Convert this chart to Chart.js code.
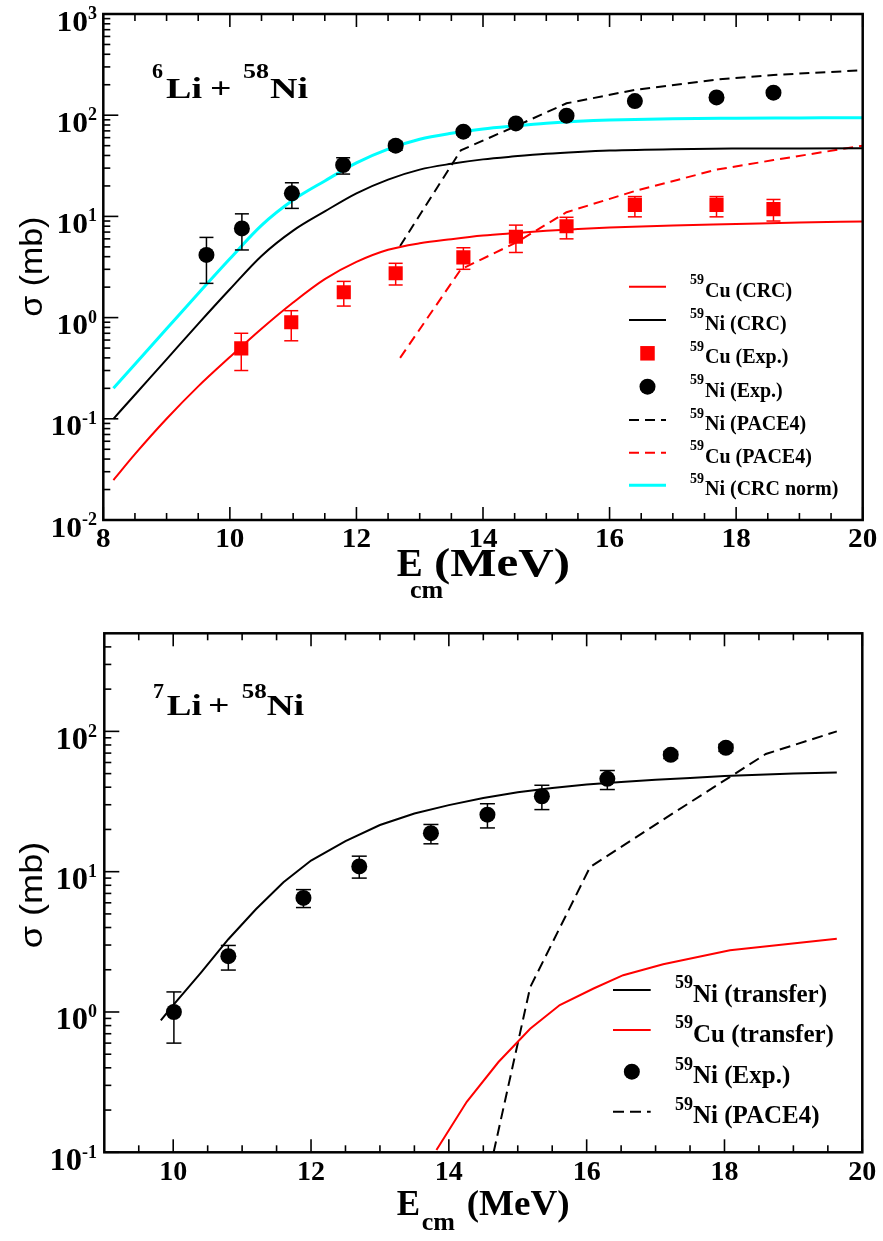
<!DOCTYPE html>
<html><head><meta charset="utf-8">
<script src="https://cdn.jsdelivr.net/npm/chart.js@4.4.1/dist/chart.umd.min.js"></script>
<style>
html,body{margin:0;padding:0;background:#fff;width:883px;height:1241px;overflow:hidden}
canvas{position:absolute;left:0}
#c1{top:0}
#c2{top:620px}
</style></head><body>
<canvas id="c1" width="883" height="620"></canvas>
<canvas id="c2" width="883" height="621"></canvas>
<script>
// ---------------- DATA : top panel (6Li + 58Ni) ----------------
const topXTicks = [8, 10, 12, 14, 16, 18, 20];
const topYTicks = [0.01, 0.1, 1, 10, 100, 1000];

const ni6ExpE  = [9.63, 10.19, 10.98, 11.79, 12.62, 13.69, 14.52, 15.32, 16.40, 17.69, 18.59];
const ni6ExpV  = [4.16, 7.6, 16.9, 32.2, 50, 68.7, 83, 98.9, 138, 150, 167];
const ni6ExpLo = [2.18, 4.66, 12.0, 26.2, 45, 64, 78, 94, 131, 143, 159];
const ni6ExpHi = [6.2, 10.6, 21.5, 38, 55, 74, 88, 104, 145, 158, 175];

const cu6ExpE  = [10.18, 10.97, 11.80, 12.62, 13.69, 14.52, 15.32, 16.40, 17.69, 18.59];
const cu6ExpV  = [0.497, 0.90, 1.78, 2.74, 3.94, 6.3, 8.0, 13.0, 13.0, 11.8];
const cu6ExpLo = [0.30, 0.59, 1.30, 2.10, 3.0, 4.4, 6.0, 9.9, 9.9, 9.0];
const cu6ExpHi = [0.70, 1.17, 2.28, 3.44, 4.9, 8.2, 9.8, 15.7, 15.7, 14.7];

const crcE     = [8.16, 8.5, 9.0, 9.5, 10.0, 10.5, 11.0, 11.5, 12.0, 12.5, 13.0, 13.5, 14.0, 14.5, 15.0, 15.5, 16.0, 17.0, 18.0, 19.0, 20.0];
const niCrcV   = [0.10, 0.173, 0.387, 0.867, 1.905, 4.07, 7.24, 11.2, 16.9, 23.1, 29.0, 33.1, 36.6, 39.2, 41.6, 43.4, 44.8, 46.2, 46.8, 47.0, 47.2];
const niNormV  = [0.20, 0.346, 0.774, 1.73, 3.81, 8.15, 14.5, 22.4, 33.8, 46.2, 57.9, 66.2, 73.1, 78.3, 83.2, 86.9, 89.5, 92.5, 93.5, 94.0, 94.4];
const cuCrcV   = [0.0248, 0.0447, 0.10, 0.209, 0.407, 0.776, 1.41, 2.40, 3.55, 4.68, 5.43, 5.96, 6.46, 6.84, 7.21, 7.50, 7.76, 8.13, 8.41, 8.71, 8.91];

const paceE    = [12.69, 13.65, 14.52, 15.32, 16.40, 17.69, 18.59, 20.0];
const niPaceV  = [5.1, 45, 78, 131, 178, 225, 250, 278];
const cuPaceV  = [0.40, 3.0, 5.5, 11, 17.8, 29, 36, 50];

// ---------------- DATA : bottom panel (7Li + 58Ni) ----------------
const botXTicks = [10, 12, 14, 16, 18, 20];
const botYTicks = [0.1, 1, 10, 100];

const ni7ExpE  = [10.01, 10.80, 11.89, 12.70, 13.74, 14.56, 15.35, 16.30, 17.22, 18.02];
const ni7ExpV  = [1.0, 2.5, 6.5, 10.9, 18.8, 25.5, 34.5, 45.9, 68, 76.4];
const ni7ExpLo = [0.60, 1.99, 5.55, 9.0, 15.8, 20.5, 27.7, 38.5, 64, 72];
const ni7ExpHi = [1.39, 2.98, 7.45, 12.9, 21.7, 30.5, 41.3, 52.6, 72, 81];

const niTrE = [9.82, 10.0, 10.4, 10.8, 11.2, 11.6, 12.0, 12.5, 13.0, 13.5, 14.0, 14.5, 15.0, 15.5, 16.0, 16.5, 17.0, 17.5, 18.0, 18.5, 19.0, 19.63];
const niTrV = [0.87, 1.12, 1.9, 3.3, 5.4, 8.4, 12.0, 16.5, 21.5, 26, 29.8, 33.5, 36.8, 39.5, 41.8, 43.6, 45.2, 46.6, 48, 49, 50, 51];
const cuTrE = [13.82, 14.26, 14.72, 15.18, 15.61, 16.10, 16.53, 17.11, 18.08, 19.63];
const cuTrV = [0.104, 0.229, 0.44, 0.76, 1.12, 1.47, 1.83, 2.19, 2.75, 3.33];
const niPace7E = [14.65, 15.18, 16.05, 17.25, 18.6, 19.63];
const niPace7V = [0.1, 1.5, 10.8, 26, 69, 100];

// ---------------- helpers ----------------
const SERIF = '"Liberation Serif","Times New Roman",serif';
const SANS  = '"Liberation Sans",Arial,sans-serif';
const RED = '#ff0000', CYAN = '#00ffff';
const pts = (xs, ys) => xs.map((x, i) => ({x, y: ys[i]}));

function txt(ctx, s, x, y, size, o = {}) {
  ctx.save();
  ctx.font = `${o.weight || 'bold'} ${size}px ${o.family || SERIF}`;
  ctx.fillStyle = o.color || '#000';
  ctx.textBaseline = 'alphabetic';
  ctx.textAlign = 'left';
  const w0 = ctx.measureText(s).width;
  const sx = o.w ? o.w / w0 : (o.sx || 1);
  const w = w0 * sx;
  let left = x;
  if (o.align === 'right') left = x - w; else if (o.align === 'center') left = x - w / 2;
  ctx.translate(left, y);
  ctx.scale(sx, 1);
  ctx.fillText(s, 0, 0);
  ctx.restore();
  return w;
}
function measure(ctx, s, size, sx = 1) {
  ctx.save(); ctx.font = `bold ${size}px ${SERIF}`;
  const w = ctx.measureText(s).width * sx; ctx.restore(); return w;
}
function seg(ctx, x1, y1, x2, y2) { ctx.beginPath(); ctx.moveTo(x1, y1); ctx.lineTo(x2, y2); ctx.stroke(); }

const DECO = {};

const decoPlugin = {
  id: 'deco',
  afterDatasetsDraw(chart) {
    const d = DECO[chart.canvas.id]; if (!d) return;
    const ctx = chart.ctx, xs = chart.scales.x, ys = chart.scales.y;
    ctx.save();
    for (const e of d.errs) {
      ctx.strokeStyle = e.color; ctx.lineWidth = 1.5;
      e.E.forEach((E, i) => {
        const px = xs.getPixelForValue(E);
        const p1 = ys.getPixelForValue(e.lo[i]), p2 = ys.getPixelForValue(e.hi[i]);
        seg(ctx, px, p1, px, p2);
        seg(ctx, px - e.cap, p1, px + e.cap, p1);
        seg(ctx, px - e.cap, p2, px + e.cap, p2);
      });
    }
    ctx.restore();
  },
  afterDraw(chart) {
    const d = DECO[chart.canvas.id]; if (!d) return;
    const ctx = chart.ctx, a = chart.chartArea, xs = chart.scales.x, ys = chart.scales.y;
    ctx.save();
    ctx.strokeStyle = '#000'; ctx.lineWidth = 1.6;
    // y ticks
    for (const v of d.yTicks) {
      const p = ys.getPixelForValue(v);
      seg(ctx, a.left, p, a.left + d.tk.yMaj, p);
    }
    const e0 = Math.floor(Math.log10(ys.min)), e1 = Math.ceil(Math.log10(ys.max));
    for (let e = e0; e < e1; e++) for (let m = 2; m <= 9; m++) {
      const v = m * Math.pow(10, e);
      if (v <= ys.min * 1.0001 || v >= ys.max * 0.9999) continue;
      const p = ys.getPixelForValue(v);
      seg(ctx, a.left, p, a.left + d.tk.yMin, p);
    }
    // x ticks (bottom + mirrored top)
    for (const v of d.xTicks) {
      const p = xs.getPixelForValue(v);
      seg(ctx, p, a.bottom, p, a.bottom - d.tk.xMaj);
      seg(ctx, p, a.top, p, a.top + d.tk.xMaj);
    }
    for (let v = xs.min + 0.5; v < xs.max; v += 0.5) {
      if (d.xTicks.includes(v)) continue;
      const p = xs.getPixelForValue(v);
      seg(ctx, p, a.bottom, p, a.bottom - d.tk.xMin);
      seg(ctx, p, a.top, p, a.top + d.tk.xMin);
    }
    // frame
    ctx.lineWidth = 2.5;
    ctx.strokeRect(a.left, a.top, a.right - a.left, a.bottom - a.top);
    // y labels 10^n
    for (const v of d.yTicks) {
      const p = ys.getPixelForValue(v);
      const ex = String(Math.round(Math.log10(v)));
      const L = d.yLab;
      const ws = measure(ctx, ex, L.supSize);
      const wm = measure(ctx, '10', L.size, L.sx);
      txt(ctx, ex, L.right - ws, p + L.dy + L.supDy, L.supSize);
      txt(ctx, '10', L.right - ws - wm, p + L.dy, L.size, {sx: L.sx});
    }
    // x labels
    for (const v of d.xTicks) {
      const p = xs.getPixelForValue(v);
      txt(ctx, String(v), p, a.bottom + d.xLab.dy, d.xLab.size, {align: 'center', sx: d.xLab.sx});
    }
    // axis titles
    const T = d.xTitle;
    txt(ctx, 'E', T.ex, T.base, T.size);
    txt(ctx, 'cm', T.cx, T.cbase, T.csize);
    txt(ctx, '(MeV)', T.mx, T.base, T.size, {w: T.mw});
    const Y = d.yTitle;
    ctx.save();
    ctx.translate(Y.x, Y.y); ctx.rotate(-Math.PI / 2);
    ctx.font = `normal ${Y.size}px ${SANS}`;
    const yw = ctx.measureText('σ (mb)').width;
    ctx.scale(Y.len / yw, 1);
    ctx.fillStyle = '#000'; ctx.textAlign = 'center'; ctx.textBaseline = 'alphabetic';
    ctx.fillText('σ (mb)', 0, 0);
    ctx.restore();
    // reaction annotation
    for (const pc of d.anno) txt(ctx, pc.t, pc.x, pc.y, pc.size, {w: pc.w});
    // legend
    const G = d.legend;
    for (const it of G.items) {
      ctx.save();
      if (it.kind === 'line') {
        ctx.strokeStyle = it.color; ctx.lineWidth = it.width; ctx.setLineDash(it.dash || []);
        seg(ctx, G.x1, it.y, G.x2, it.y);
      } else if (it.kind === 'square') {
        ctx.fillStyle = it.color; const s = it.size;
        ctx.fillRect((G.x1 + G.x2) / 2 - s / 2, it.y - s / 2, s, s);
      } else {
        ctx.fillStyle = it.color; ctx.beginPath();
        ctx.arc((G.x1 + G.x2) / 2, it.y, it.size, 0, Math.PI * 2); ctx.fill();
      }
      ctx.restore();
      const wsup = txt(ctx, '59', G.tx, it.y + G.supDy, G.supSize);
      txt(ctx, it.text, G.tx + wsup + G.gap, it.y + G.dy, G.size);
    }
    ctx.restore();
  }
};

function makeChart(id, cfg) {
  const [xmin, xmax, ymin, ymax] = cfg.range;
  return new Chart(document.getElementById(id), {
    type: 'scatter',
    data: { datasets: cfg.datasets },
    options: {
      responsive: false, animation: false, events: [], devicePixelRatio: 1,
      layout: { padding: cfg.pad },
      plugins: { legend: { display: false }, tooltip: { enabled: false } },
      scales: {
        x: { type: 'linear', min: xmin, max: xmax, grid: { display: false, drawTicks: false },
             ticks: { display: false }, border: { display: false },
             afterFit(s) { s.height = cfg.xh; } },
        y: { type: 'logarithmic', min: ymin, max: ymax, grid: { display: false, drawTicks: false },
             ticks: { display: false }, border: { display: false },
             afterFit(s) { s.width = cfg.yw; } }
      }
    },
    plugins: [decoPlugin]
  });
}

const lineDs = (data, color, width, dash, smooth) => ({
  data, showLine: true, pointRadius: 0, borderColor: color, backgroundColor: color,
  borderWidth: width, borderDash: dash || [], tension: 0,
  cubicInterpolationMode: smooth ? 'monotone' : 'default'
});

// ---------------- top chart ----------------
DECO.c1 = {
  xTicks: topXTicks, yTicks: topYTicks,
  tk: { yMaj: 15, yMin: 7, xMaj: 13, xMin: 7 },
  yLab: { size: 30, supSize: 18, right: 97, dy: 16.5, supDy: -11.5, sx: 1.05 },
  xLab: { size: 27, dy: 26.7, sx: 1.08 },
  errs: [
    { E: ni6ExpE, lo: ni6ExpLo, hi: ni6ExpHi, color: '#000', cap: 7 },
    { E: cu6ExpE, lo: cu6ExpLo, hi: cu6ExpHi, color: RED, cap: 7 }
  ],
  xTitle: { ex: 396.7, base: 576, size: 39, cx: 410, cbase: 598, csize: 26, mx: 434, mw: 136 },
  yTitle: { x: 41.7, y: 266.7, size: 32, len: 100 },
  anno: [
    { t: '6', x: 152, y: 78, size: 22 },
    { t: 'Li', x: 166, y: 97.7, size: 30, w: 36 },
    { t: '+', x: 210, y: 97.7, size: 30, w: 21.5 },
    { t: '58', x: 243, y: 78, size: 22, w: 26 },
    { t: 'Ni', x: 270, y: 97.7, size: 30, w: 38 }
  ],
  legend: {
    x1: 629, x2: 666, tx: 690, gap: 1, size: 20, supSize: 14, dy: 10, supDy: -2.5,
    items: [
      { y: 286.7, kind: 'line', color: RED, width: 2, text: 'Cu (CRC)' },
      { y: 320, kind: 'line', color: '#000', width: 2, text: 'Ni (CRC)' },
      { y: 353.3, kind: 'square', color: RED, size: 14.5, text: 'Cu (Exp.)' },
      { y: 386.7, kind: 'circle', color: '#000', size: 8, text: 'Ni (Exp.)' },
      { y: 420, kind: 'line', color: '#000', width: 2, dash: [10, 6], text: 'Ni (PACE4)' },
      { y: 452.7, kind: 'line', color: RED, width: 2, dash: [10, 6], text: 'Cu (PACE4)' },
      { y: 485.3, kind: 'line', color: CYAN, width: 3, text: 'Ni (CRC norm)' }
    ]
  }
};

makeChart('c1', {
  range: [8, 20, 0.01, 1000], pad: { top: 14, right: 20.3, left: 0, bottom: 0 }, xh: 100, yw: 103.3,
  datasets: [
    { data: pts(ni6ExpE, ni6ExpV), pointStyle: 'circle', pointRadius: 8, backgroundColor: '#000', borderColor: '#000', borderWidth: 0 },
    { data: pts(cu6ExpE, cu6ExpV), pointStyle: 'rect', pointRadius: 10, backgroundColor: RED, borderColor: RED, borderWidth: 0 },
    lineDs(pts(crcE, niNormV), CYAN, 3, null, true),
    lineDs(pts(crcE, niCrcV), '#000', 2, null, true),
    lineDs(pts(crcE, cuCrcV), RED, 2, null, true),
    lineDs(pts(paceE, niPaceV), '#000', 2, [10, 6], false),
    lineDs(pts(paceE, cuPaceV), RED, 2, [10, 6], false)
  ]
});

// ---------------- bottom chart ----------------
DECO.c2 = {
  xTicks: botXTicks, yTicks: botYTicks,
  tk: { yMaj: 15, yMin: 7, xMaj: 13, xMin: 7 },
  yLab: { size: 31, supSize: 18, right: 97, dy: 17.3, supDy: -12, sx: 1.05 },
  xLab: { size: 28, dy: 27.7, sx: 1.0 },
  errs: [ { E: ni7ExpE, lo: ni7ExpLo, hi: ni7ExpHi, color: '#000', cap: 7.5 } ],
  xTitle: { ex: 396.7, base: 595, size: 35, cx: 421.7, cbase: 610, csize: 26, mx: 466.7, mw: 103 },
  yTitle: { x: 41.7, y: 275, size: 32, len: 106.7 },
  anno: [
    { t: '7', x: 153, y: 78, size: 22 },
    { t: 'Li', x: 166.7, y: 95, size: 29, w: 35 },
    { t: '+', x: 208, y: 95, size: 29, w: 21.5 },
    { t: '58', x: 241.7, y: 78, size: 22, w: 25 },
    { t: 'Ni', x: 266.7, y: 95, size: 29, w: 37.3 }
  ],
  legend: {
    x1: 613, x2: 650.7, tx: 675, gap: 0, size: 25, supSize: 18, dy: 11.7, supDy: -2,
    items: [
      { y: 370, kind: 'line', color: '#000', width: 2, text: 'Ni (transfer)' },
      { y: 410, kind: 'line', color: RED, width: 2, text: 'Cu (transfer)' },
      { y: 451.7, kind: 'circle', color: '#000', size: 8, text: 'Ni (Exp.)' },
      { y: 491.7, kind: 'line', color: '#000', width: 2, dash: [11, 6], text: 'Ni (PACE4)' }
    ]
  }
};

makeChart('c2', {
  range: [9, 20, 0.1, 500], pad: { top: 13.3, right: 20.7, left: 0, bottom: 0 }, xh: 88.7, yw: 104.3,
  datasets: [
    { data: pts(ni7ExpE, ni7ExpV), pointStyle: 'circle', pointRadius: 8, backgroundColor: '#000', borderColor: '#000', borderWidth: 0 },
    lineDs(pts(niTrE, niTrV), '#000', 2, null, false),
    lineDs(pts(cuTrE, cuTrV), RED, 2, null, false),
    lineDs(pts(niPace7E, niPace7V), '#000', 2, [11, 6], false)
  ]
});
</script>
</body></html>
